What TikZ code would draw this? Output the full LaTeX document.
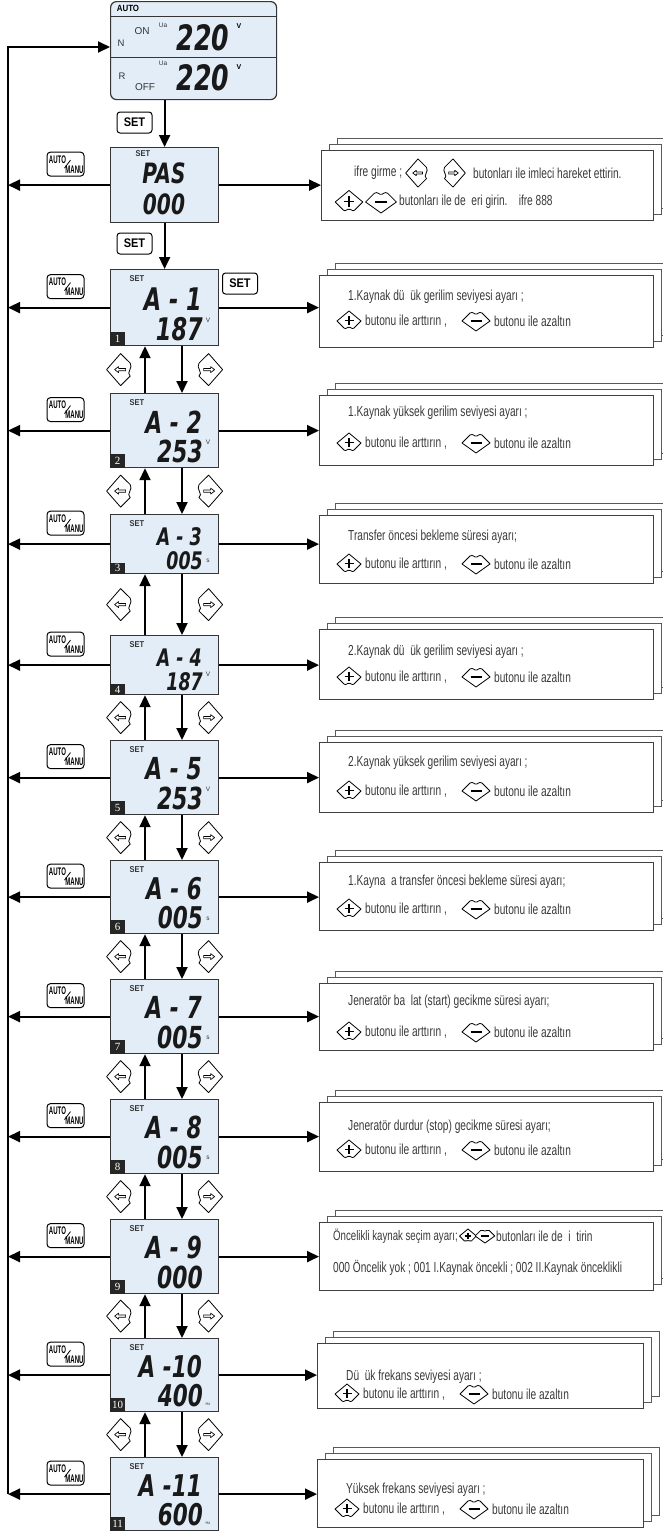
\documentclass[tikz,border=0pt]{standalone}
\usepackage{fontspec}
\setmainfont{Liberation Sans}
\newfontfamily\infofont[FakeStretch=0.7]{Liberation Sans}
\newfontfamily\segfont[FakeStretch=0.72]{DejaVu Sans}
\newfontfamily\condfont[FakeStretch=0.55]{Liberation Sans}
\newfontfamily\btnfont[FakeStretch=0.88]{Liberation Sans}
\newfontfamily\badgefont{Liberation Serif}
\usetikzlibrary{arrows.meta,calc}

\definecolor{lcd}{HTML}{E3EDF7}
\definecolor{lcdframe}{HTML}{353535}
\definecolor{txt}{HTML}{3A3A3A}
\definecolor{sheetc}{HTML}{5A5A5A}

\newcommand\segsz[1]{\segfont\bfseries\itshape\fontsize{#1pt}{#1pt}\selectfont}
\newcommand\infosz{\infofont\fontsize{14.5}{16}\selectfont}

\tikzset{
  flow/.style={draw=black, line width=2pt, -{Triangle[length=12pt,width=11pt]}},
  display/.style={draw=lcdframe, line width=1.2pt, fill=lcd, inner sep=0pt, anchor=north west, minimum width=108pt},
  setlbl/.style={font=\btnfont\bfseries\fontsize{8.5}{8.5}\selectfont, inner sep=0pt, text=lcdframe},
  seg/.style={anchor=east, inner sep=0pt, text=black!90},
  unitlbl/.style={font=\fontsize{6.5}{6.5}\selectfont, inner sep=0pt, text=lcdframe},
  badge/.style={fill=black!85, text=white, inner sep=0pt, minimum width=15pt, anchor=south west, font=\badgefont\fontsize{11}{11}\selectfont},
  btn/.style={draw=black, line width=1pt, rounded corners=3pt, fill=white, minimum width=35pt, minimum height=21pt, inner sep=0pt, font=\btnfont\bfseries\fontsize{12.5}{12.5}\selectfont},
  sheet/.style={draw=sheetc, line width=0.9pt, fill=white},
  infobox/.style={draw=black!75, line width=1.1pt, fill=white, anchor=north west, inner sep=0pt},
  infotxt/.style={font=\infosz, text=txt, anchor=west, inner sep=0pt},
  keyline/.style={draw=black, line width=0.8pt, fill=white, line join=round},
  lkey/.pic={
    \draw[keyline] (0,-16) -- (-14,0) -- (0,16) -- (9.6,6.5) .. controls (5,3) and (13,-2) .. (9.6,-6.5) -- cycle;
    \draw[keyline, line width=0.7pt] (-6,0) -- (-2,-3) -- (-2,-1.2) -- (5,-1.2) -- (5,1.2) -- (-2,1.2) -- (-2,3) -- cycle;
  },
  pkey/.pic={
    \draw[keyline] (-12,0) -- (0,-10) -- (12,0) -- (5,7) .. controls (3,9) and (1,5) .. (0,6.5) .. controls (-1,5) and (-3,9) .. (-5,7) -- cycle;
    \draw[line width=1.7pt] (-4.5,-0.5) -- (4.5,-0.5) (0,-5) -- (0,4);
  },
  mkey/.pic={
    \draw[keyline] (-14,0) -- (-6,-8) .. controls (-3,-10) and (-1,-6) .. (0,-7) .. controls (1,-6) and (3,-10) .. (6,-8) -- (14,0) -- (0,10) -- cycle;
    \draw[line width=1.9pt] (-5.5,0) -- (5.5,0);
  },
  amkey/.pic={
    \draw[draw=black, line width=1pt, fill=white, rounded corners=3.5pt] (-18.5,-12) rectangle (18.5,12);
    \node[font=\condfont\bfseries\fontsize{11}{11}\selectfont, inner sep=0pt] (-amA) at (-8,-4.5) {AUTO};
    \draw[line width=0.8pt] (-1,4) -- (5,-4);
    \node[font=\condfont\bfseries\fontsize{11}{11}\selectfont, inner sep=0pt] (-amM) at (9,5.5) {MANU};
  },
}

% display row: name, top, bottom, line1, line2, unit, unit y fraction, badge
\newcommand\mkdisp[8]{%
  \pgfmathsetmacro\hh{#3-#2}%
  \pgfmathsetmacro\fs{0.41*\hh}%
  \pgfmathsetmacro\bh{0.19*\hh}%
  \node[display, minimum height=\hh pt] (#1) at (110,#2) {};
  \node[setlbl] (#1-set) at ($(#1.north west)+(27,10)$) {SET};
  \node[seg, font=\segsz{\fs}] (#1-a) at ($(#1.north west)+(92,{0.39*\hh})$) {#4};
  \node[seg, font=\segsz{\fs}] (#1-b) at ($(#1.north west)+(93,{0.79*\hh})$) {#5};
  \if\relax\detokenize{#6}\relax\else
    \node[unitlbl] (#1-u) at ($(#1.north west)+(98,{#7*\hh})$) {#6};
  \fi
  \node[badge, minimum height=\bh pt] (#1-n) at (#1.south west) {#8};
}

% info box with stacked sheets: name, top, bottom, left, right
\newcommand\mkinfobox[5]{%
  \draw[sheet] ({#4+16},{#2-12}) rectangle ({#5+16},{#3-12});
  \draw[sheet] ({#4+8},{#2-6}) rectangle ({#5+8},{#3-6});
  \node[infobox, minimum width={#5pt-#4pt}, minimum height={#3pt-#2pt}] (#1) at (#4,#2) {};
}
% standard info text: name, left, y1, y2, text
\newcommand\mkinfotext[5]{%
  \node[infotxt] (#1-t1) at ({#2+29},#3) {#5};
  \pic at ({#2+30},#4) {pkey};
  \node[infotxt] (#1-t2) at ({#2+46},#4) {butonu ile arttırın ,};
  \pic at ({#2+157},#4) {mkey};
  \node[infotxt] (#1-t3) at ({#2+175},#4) {butonu ile azaltın};
}

\begin{document}
\begin{tikzpicture}[x=1pt,y=-1pt]
\useasboundingbox (0,0) rectangle (662,1532);
\fill[white] (0,0) rectangle (662,1532);

% ---------- top AUTO display ----------
\node[display, minimum width=166pt, minimum height=98pt, rounded corners=6pt] (auto) at (110,1) {};
\draw[lcdframe, line width=1pt] ($(auto.north west)+(0,15)$) -- ($(auto.north east)+(0,15)$);
\draw[lcdframe, line width=1pt] ($(auto.north west)+(0,56)$) -- ($(auto.north east)+(0,56)$);
\node[font=\btnfont\bfseries\fontsize{9}{9}\selectfont, inner sep=0pt] (autohdr) at (128,8) {AUTO};
\node[font=\fontsize{9.5}{9.5}\selectfont, text=lcdframe, inner sep=0pt] (tN) at (121,43) {N};
\node[font=\fontsize{10}{10}\selectfont, text=lcdframe, inner sep=0pt] (tON) at (142,31) {ON};
\node[font=\fontsize{6.5}{6.5}\selectfont, text=lcdframe, inner sep=0pt] (tUa1) at (163,25) {Ua};
\node[seg, anchor=center, font=\segsz{35}] (t220a) at (203,38) {220};
\node[font=\bfseries\fontsize{7}{7}\selectfont, inner sep=0pt] (tV1) at (239,26) {V};
\node[font=\fontsize{9.5}{9.5}\selectfont, text=lcdframe, inner sep=0pt] (tR) at (122,76) {R};
\node[font=\fontsize{10}{10}\selectfont, text=lcdframe, inner sep=0pt] (tOFF) at (145,87) {OFF};
\node[font=\fontsize{6.5}{6.5}\selectfont, text=lcdframe, inner sep=0pt] (tUa2) at (163,63) {Ua};
\node[seg, anchor=center, font=\segsz{35}] (t220b) at (203,78) {220};
\node[font=\bfseries\fontsize{7}{7}\selectfont, inner sep=0pt] (tV2) at (239,67) {V};

% ---------- PAS display ----------
\node[display, minimum height=75pt] (pas) at (110,147) {};
\node[setlbl] (pas-set) at (143,154) {SET};
\node[seg, anchor=center, font=\segsz{28}] (pas-a) at (164,173) {PAS};
\node[seg, anchor=center, font=\segsz{28}] (pas-b) at (164,204) {000};

% ---------- parameter displays ----------
\mkdisp{a1}{269}{345}{A - 1}{187}{V}{0.67}{1}
\mkdisp{a2}{393}{467}{A - 2}{253}{V}{0.67}{2}
\mkdisp{a3}{514}{573}{A - 3}{005}{s}{0.8}{3}
\mkdisp{a4}{635}{694}{A - 4}{187}{V}{0.67}{4}
\mkdisp{a5}{740}{814}{A - 5}{253}{V}{0.67}{5}
\mkdisp{a6}{860}{933}{A - 6}{005}{s}{0.8}{6}
\mkdisp{a7}{979}{1053}{A - 7}{005}{s}{0.8}{7}
\mkdisp{a8}{1099}{1173}{A - 8}{005}{s}{0.8}{8}
\mkdisp{a9}{1219}{1293}{A - 9}{000}{}{0.8}{9}
\mkdisp{a10}{1338}{1411}{A -10}{400}{\fontsize{4}{4}\selectfont Hz}{0.9}{10}
\mkdisp{a11}{1457}{1530}{A -11}{600}{\fontsize{4}{4}\selectfont Hz}{0.9}{11}

% ---------- SET buttons ----------
\node[btn] (set1) at (134.5,122.5) {SET};
\node[btn] (set2) at (134.5,243.5) {SET};
\node[btn] (set3) at (240,283.5) {SET};

% ---------- info boxes ----------
\mkinfobox{ipas}{150}{220}{321}{653}
\node[infotxt] (ipas-t1) at (354,173) {ifre girme ;};
\pic[scale=0.88] at (418,173) {lkey};
\pic[scale=0.88, xscale=-1] at (453,173) {lkey};
\node[infotxt] (ipas-t2) at (473,173) {butonları ile imleci hareket ettirin.};
\pic[scale=1.15] at (349,202) {pkey};
\pic[scale=1.1] at (381,202) {mkey};
\node[infotxt] (ipas-t3) at (399,202) {butonları ile de~~eri girin.~~~~ifre 888};

\mkinfobox{ia1}{275}{347}{319}{653}
\mkinfotext{ia1}{319}{297}{321}{1.Kaynak dü~~ük gerilim seviyesi ayarı ;}
\mkinfobox{ia2}{395}{465}{319}{653}
\mkinfotext{ia2}{319}{413}{443}{1.Kaynak yüksek gerilim seviyesi ayarı ;}
\mkinfobox{ia3}{515}{583}{319}{653}
\mkinfotext{ia3}{319}{537}{564}{Transfer öncesi bekleme süresi ayarı;}
\mkinfobox{ia4}{629}{699}{319}{653}
\mkinfotext{ia4}{319}{652}{677}{2.Kaynak dü~~ük gerilim seviyesi ayarı ;}
\mkinfobox{ia5}{742}{812}{319}{653}
\mkinfotext{ia5}{319}{763}{791}{2.Kaynak yüksek gerilim seviyesi ayarı ;}
\mkinfobox{ia6}{862}{930}{319}{653}
\mkinfotext{ia6}{319}{882}{909}{1.Kayna~~a transfer öncesi bekleme süresi ayarı;}
\mkinfobox{ia7}{983}{1050}{319}{653}
\mkinfotext{ia7}{319}{1002}{1032}{Jeneratör ba~~lat (start) gecikme süresi ayarı;}
\mkinfobox{ia8}{1102}{1171}{319}{653}
\mkinfotext{ia8}{319}{1127}{1150}{Jeneratör durdur (stop) gecikme süresi ayarı;}
\mkinfobox{ia9}{1222}{1290}{319}{653}
\node[infotxt, font=\infofont\fontsize{13.8}{15}\selectfont] (ia9-t1) at (333,1236) {Öncelikli kaynak seçim ayarı;};
\pic[scale=0.7] at ($(ia9-t1.east)+(10,0)$) {pkey};
\pic[scale=0.7] at ($(ia9-t1.east)+(27,0)$) {mkey};
\node[infotxt] (ia9-t2) at ($(ia9-t1.east)+(38,0)$) {butonları ile de~~i~~tirin};
\node[infotxt] (ia9-t3) at (333,1268) {000 Öncelik yok ; 001 I.Kaynak öncekli ; 002 II.Kaynak önceklikli};
\mkinfobox{ia10}{1343}{1408}{317}{643}
\mkinfotext{ia10}{317}{1377}{1394}{Dü~~ük frekans seviyesi ayarı ;}
\mkinfobox{ia11}{1459}{1527}{317}{643}
\mkinfotext{ia11}{317}{1490}{1509}{Yüksek frekans seviyesi ayarı ;}

% ---------- connectors ----------
\coordinate (rl) at (8,47);
\draw[flow] (a11.west -| rl) -- (rl) -- (rl -| auto.west);
\draw[flow] (pas.north |- auto.south) -- (pas.north);
\draw[flow] (pas.south) -- (a1.north);

\foreach \n in {pas,a1,a2,a3,a4,a5,a6,a7,a8,a9,a10,a11}{
  \draw[flow] (\n.west) -- (\n.west -| rl);
  \draw[flow] (\n.east) -- (\n.east -| i\n.west);
  \pic at ($(\n.west)+(-44.5,-21)$) {amkey};
}

\foreach \i [evaluate=\i as \j using int(\i+1)] in {1,...,10}{
  \draw[flow] ([xshift=35pt]a\j.north west) -- ([xshift=35pt]a\i.south west);
  \draw[flow] ([xshift=72pt]a\i.south west) -- ([xshift=72pt]a\j.north west);
  \path ($(a\i.south)!0.5!(a\j.north)$) coordinate (m\i);
  \pic at ([xshift=-44pt]m\i) {lkey};
  \pic[xscale=-1] at ([xshift=44pt]m\i) {lkey};
}
\end{tikzpicture}
\end{document}
